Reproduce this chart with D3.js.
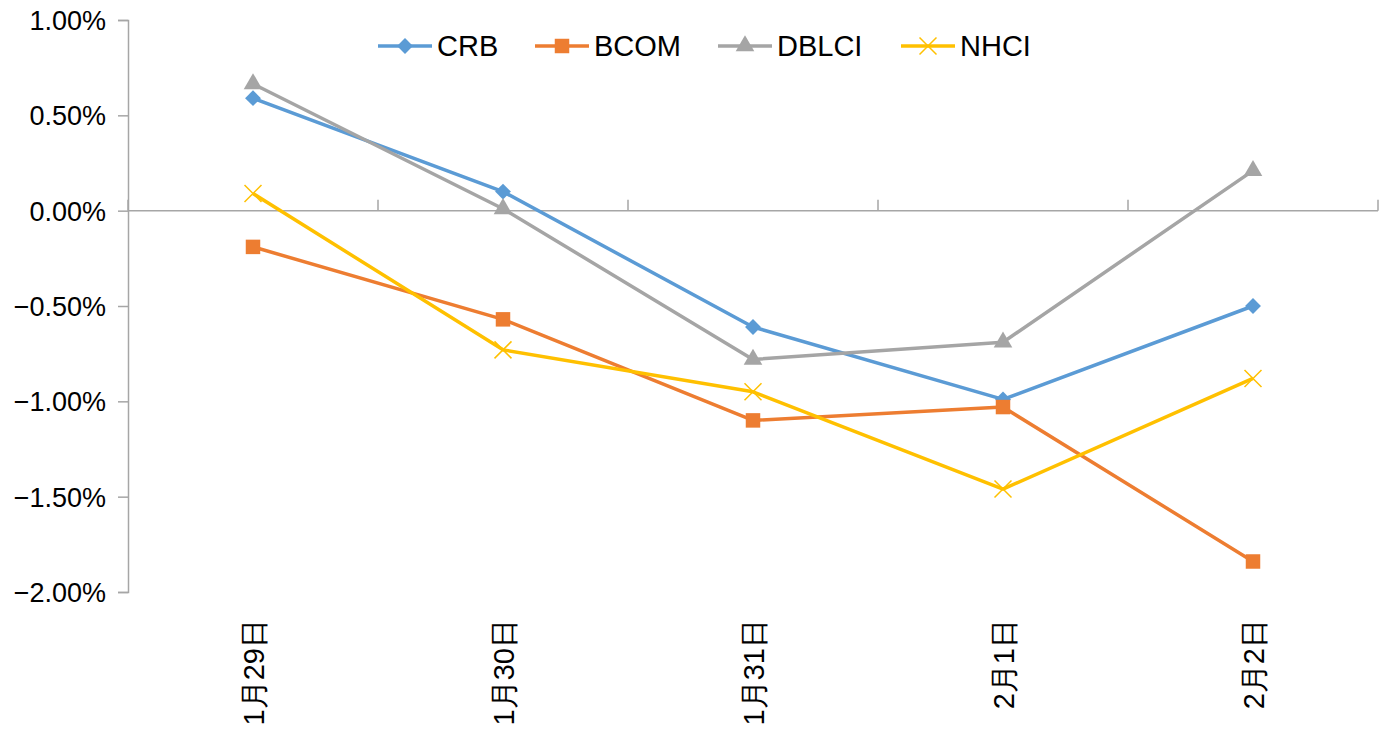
<!DOCTYPE html>
<html>
<head>
<meta charset="utf-8">
<script src="https://cdn.jsdelivr.net/npm/d3@7"></script>
<style>
  body { margin: 0; background: #fff; }
  text { font-family: "Liberation Sans", Arial, sans-serif; fill: #000; }
</style>
</head>
<body>
<svg id="chart" width="1391" height="731"></svg>
<script>
// data (percent)
var categories = ["1月29日", "1月30日", "1月31日", "2月1日", "2月2日"];
var crb   = [0.59, 0.10, -0.61, -0.99, -0.50];
var bcom  = [-0.19, -0.57, -1.10, -1.03, -1.84];
var dblci = [0.665, 0.01, -0.78, -0.69, 0.21];
var nhci  = [0.09, -0.73, -0.95, -1.46, -0.88];
var yTicks = [1, 0.5, 0, -0.5, -1, -1.5, -2];

var series = [
  { name: "CRB",   values: crb,   color: "#5B9BD5", symbol: "diamond" },
  { name: "BCOM",  values: bcom,  color: "#ED7D31", symbol: "square" },
  { name: "DBLCI", values: dblci, color: "#A5A5A5", symbol: "triangle" },
  { name: "NHCI",  values: nhci,  color: "#FFC000", symbol: "cross" }
];

var svg = d3.select("#chart");
var plotLeft = 128, plotRight = 1378, plotTop = 20, plotBottom = 592;

var x = d3.scaleBand().domain(categories).range([plotLeft, plotRight]);
var y = d3.scaleLinear().domain([-2, 1]).range([plotBottom, plotTop]);

//-------------------------------
// axes
var yAxis = svg.append("g")
  .attr("transform", "translate(" + plotLeft + ",0)")
  .call(d3.axisLeft(y).tickValues(yTicks).tickSize(10).tickPadding(12)
    .tickFormat(function(d) { return d3.format(".2f")(d) + "%"; }));
yAxis.select(".domain").attr("stroke", "#A6A6A6").attr("stroke-width", 1.5);
yAxis.selectAll(".tick line").attr("stroke", "#A6A6A6").attr("stroke-width", 1.5);
yAxis.selectAll("text").style("font-size", "27px").attr("dy", "0.35em")
  .style("font-family", "'Liberation Sans', Arial, sans-serif").attr("fill", "#000");

var xAxisG = svg.append("g").attr("transform", "translate(0," + y(0) + ")");
xAxisG.append("line")
  .attr("x1", plotLeft).attr("x2", plotRight)
  .attr("stroke", "#A6A6A6").attr("stroke-width", 1.5);
// category boundary ticks (pointing up)
var bounds = categories.map(function(c) { return x(c); }).concat([plotRight]);
xAxisG.selectAll(".btick").data(bounds).enter().append("line")
  .attr("class", "btick")
  .attr("x1", function(d) { return d; }).attr("x2", function(d) { return d; })
  .attr("y1", 0).attr("y2", -11)
  .attr("stroke", "#A6A6A6").attr("stroke-width", 1.5);

// category labels, rotated, below the plot
svg.selectAll(".cat").data(categories).enter().append("text")
  .attr("class", "cat")
  .attr("transform", function(d) {
    return "translate(" + (x(d) + x.bandwidth() / 2 + 11) + "," + 619 + ") rotate(-90)";
  })
  .attr("text-anchor", "end")
  .style("font-size", "29px")
  .text(function(d) { return d; });

//-------------------------------
// lines and markers
var line = d3.line()
  .x(function(d, i) { return x(categories[i]) + x.bandwidth() / 2; })
  .y(function(d) { return y(d); });

function markerPath(sym) {
  if (sym === "diamond") return d3.symbol().type(d3.symbolDiamond2).size(160)();
  if (sym === "square") return d3.symbol().type(d3.symbolSquare).size(210)();
  if (sym === "triangle") return d3.symbol().type(d3.symbolTriangle).size(150)();
  return d3.symbol().type(d3.symbolX).size(190)();
}

function drawMarker(g, sr, cx, cy) {
  var p = g.append("path")
    .attr("d", markerPath(sr.symbol))
    .attr("transform", "translate(" + cx + "," + cy + ")");
  if (sr.symbol === "cross") {
    p.attr("fill", "none").attr("stroke", sr.color).attr("stroke-width", 1.5);
  } else {
    p.attr("fill", sr.color);
  }
}

series.forEach(function(sr) {
  var g = svg.append("g");
  g.append("path")
    .datum(sr.values)
    .attr("fill", "none")
    .attr("stroke", sr.color)
    .attr("stroke-width", 3.5)
    .attr("stroke-linejoin", "round")
    .attr("d", line);
  sr.values.forEach(function(v, i) {
    drawMarker(g, sr, x(categories[i]) + x.bandwidth() / 2, y(v));
  });
});

//-------------------------------
// legend
var legendX = [378, 535, 718, 901];
var legendY = 46;
series.forEach(function(sr, i) {
  var g = svg.append("g").attr("transform", "translate(" + legendX[i] + "," + legendY + ")");
  g.append("line")
    .attr("x1", 0).attr("x2", 54)
    .attr("stroke", sr.color).attr("stroke-width", 3.5);
  drawMarker(g, sr, 27, 0);
  g.append("text")
    .attr("x", 59).attr("y", 0).attr("dy", "0.35em")
    .style("font-size", "29px")
    .text(sr.name);
});
</script>
</body>
</html>
